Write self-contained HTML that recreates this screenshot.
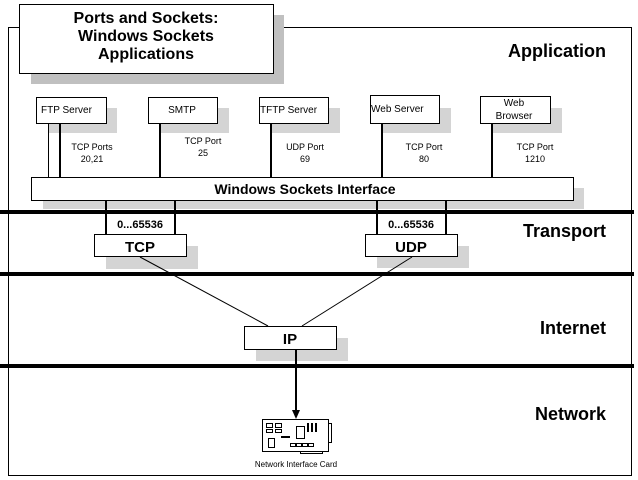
<!DOCTYPE html>
<html><head><meta charset="utf-8"><style>
html,body{margin:0;padding:0;background:#fff;width:638px;height:480px;overflow:hidden}
svg{display:block}
text{font-family:"Liberation Sans",Arial,sans-serif;fill:#000}
</style></head><body>
<svg width="638" height="480" viewBox="0 0 638 480" xmlns="http://www.w3.org/2000/svg">
<rect x="8.5" y="27.5" width="623" height="448" fill="none" stroke="#000" stroke-width="1"/>
<rect x="31" y="15" width="253" height="69" fill="#c0c0c0"/>
<rect x="19.5" y="4.5" width="254" height="69" fill="#fff" stroke="#000"/>
<text x="146" y="23" font-size="16" font-weight="bold" text-anchor="middle">Ports and Sockets:</text>
<text x="146" y="41" font-size="16" font-weight="bold" text-anchor="middle">Windows Sockets</text>
<text x="146" y="59" font-size="16" font-weight="bold" text-anchor="middle">Applications</text>
<text x="508" y="57" font-size="18" font-weight="bold">Application</text>
<g fill="#d4d4d4">
<rect x="48" y="108" width="69" height="25"/>
<rect x="160" y="108" width="69" height="25"/>
<rect x="271" y="108" width="69" height="25"/>
<rect x="382" y="108" width="69" height="25"/>
<rect x="492" y="108" width="70" height="25"/>
</g>
<line x1="48.5" y1="123" x2="48.5" y2="178" stroke="#000" stroke-width="1"/>
<g stroke="#000" stroke-width="2">
<line x1="60" y1="123" x2="60" y2="178"/>
<line x1="160" y1="123" x2="160" y2="178"/>
<line x1="271" y1="123" x2="271" y2="178"/>
<line x1="382" y1="123" x2="382" y2="178"/>
<line x1="492" y1="123" x2="492" y2="178"/>
</g>
<g fill="#fff" stroke="#000">
<rect x="36.5" y="97.5" width="70" height="26"/>
<rect x="148.5" y="97.5" width="69" height="26"/>
<rect x="259.5" y="97.5" width="69" height="26"/>
<rect x="370.5" y="95.5" width="69" height="28"/>
<rect x="480.5" y="96.5" width="70" height="27"/>
</g>
<g font-size="10">
<text x="41" y="113">FTP Server</text>
<text x="182" y="113" text-anchor="middle">SMTP</text>
<text x="260" y="113">TFTP Server</text>
<text x="371" y="112">Web Server</text>
<text x="514" y="106" text-anchor="middle">Web</text>
<text x="514" y="119" text-anchor="middle">Browser</text>
</g>
<g font-size="9" text-anchor="middle">
<text x="92" y="150">TCP Ports</text><text x="92" y="162">20,21</text>
<text x="203" y="144">TCP Port</text><text x="203" y="156">25</text>
<text x="305" y="150">UDP Port</text><text x="305" y="162">69</text>
<text x="424" y="150">TCP Port</text><text x="424" y="162">80</text>
<text x="535" y="150">TCP Port</text><text x="535" y="162">1210</text>
</g>
<rect x="43" y="188" width="541" height="21" fill="#d4d4d4"/>
<rect x="31.5" y="177.5" width="542" height="23" fill="#fff" stroke="#000"/>
<text x="305" y="194" font-size="14" font-weight="bold" text-anchor="middle">Windows Sockets Interface</text>
<g fill="#000">
<rect x="0" y="210" width="634" height="4"/>
<rect x="0" y="272" width="634" height="4"/>
<rect x="0" y="364" width="634" height="4"/>
</g>
<rect x="106" y="246" width="92" height="23" fill="#d4d4d4"/>
<rect x="377" y="246" width="92" height="22" fill="#d4d4d4"/>
<g stroke="#000" stroke-width="2">
<line x1="106" y1="200" x2="106" y2="234"/>
<line x1="175" y1="200" x2="175" y2="234"/>
<line x1="377" y1="200" x2="377" y2="234"/>
<line x1="446" y1="200" x2="446" y2="234"/>
</g>
<text x="140" y="228" font-size="11" font-weight="bold" text-anchor="middle">0...65536</text>
<text x="411" y="228" font-size="11" font-weight="bold" text-anchor="middle">0...65536</text>
<rect x="94.5" y="234.5" width="92" height="22" fill="#fff" stroke="#000"/>
<rect x="365.5" y="234.5" width="92" height="22" fill="#fff" stroke="#000"/>
<text x="140" y="252" font-size="15" font-weight="bold" text-anchor="middle">TCP</text>
<text x="411" y="252" font-size="15" font-weight="bold" text-anchor="middle">UDP</text>
<text x="523" y="237" font-size="18" font-weight="bold">Transport</text>
<g stroke="#000" stroke-width="1">
<line x1="140" y1="257" x2="268" y2="326"/>
<line x1="412" y1="257" x2="302" y2="326"/>
</g>
<rect x="256" y="338" width="92" height="23" fill="#d4d4d4"/>
<rect x="244.5" y="326.5" width="92" height="23" fill="#fff" stroke="#000"/>
<text x="290" y="344" font-size="15" font-weight="bold" text-anchor="middle">IP</text>
<text x="540" y="334" font-size="18" font-weight="bold">Internet</text>
<line x1="296" y1="349" x2="296" y2="412" stroke="#000" stroke-width="2"/>
<polygon points="292,410 300,410 296,419" fill="#000"/>
<text x="535" y="420" font-size="18" font-weight="bold">Network</text>
<g fill="none" stroke="#000" stroke-width="1">
<rect x="262.5" y="419.5" width="66" height="32"/>
<polyline points="328.5,423.5 331.5,423.5 331.5,442.5 328.5,442.5"/>
<rect x="300.5" y="451.5" width="22" height="2"/>
<rect x="266.5" y="423.5" width="6" height="4"/><rect x="275.5" y="423.5" width="6" height="4"/>
<rect x="266.5" y="429.5" width="6" height="3"/><rect x="275.5" y="429.5" width="6" height="3"/>
<rect x="296.5" y="426.5" width="8" height="12"/>
<rect x="307.5" y="423.5" width="1" height="8"/><rect x="311.5" y="423.5" width="1" height="8"/><rect x="315.5" y="423.5" width="1" height="8"/>
<rect x="268.5" y="438.5" width="6" height="9"/>
<rect x="281.5" y="436.5" width="8" height="1"/>
<rect x="290.5" y="443.5" width="5" height="3"/><rect x="296.5" y="443.5" width="5" height="3"/><rect x="302.5" y="443.5" width="5" height="3"/><rect x="308.5" y="443.5" width="5" height="3"/>
</g>
<text x="296" y="467" font-size="8" text-anchor="middle">Network Interface Card</text>
</svg>
</body></html>
